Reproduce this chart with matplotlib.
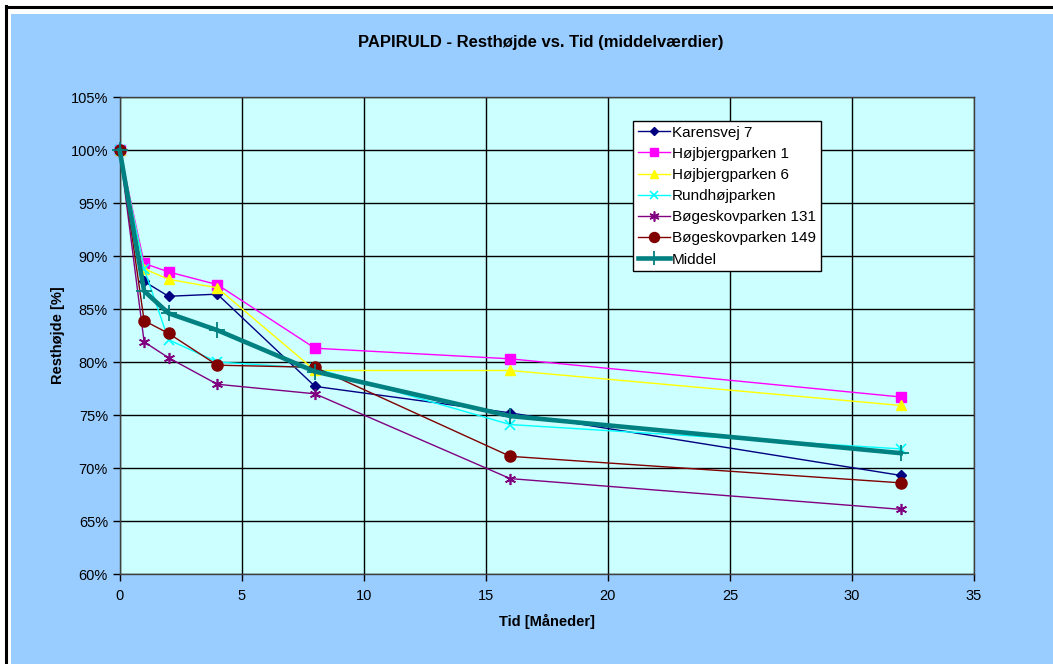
import matplotlib
matplotlib.use("Agg")
import matplotlib.pyplot as plt
from matplotlib.patches import Rectangle
from matplotlib.lines import Line2D
from matplotlib.ticker import FuncFormatter, MultipleLocator

plt.rcParams['font.family'] = ['Liberation Sans', 'DejaVu Sans']

# Time in months
months = [0, 1, 2, 4, 8, 16, 32]

# Residual height in percent per site
karensvej_7 = [100, 87.6, 86.2, 86.4, 77.7, 75.2, 69.3]
hojbjergparken_1 = [100, 89.3, 88.5, 87.3, 81.3, 80.3, 76.7]
hojbjergparken_6 = [100, 88.8, 87.8, 87.0, 79.2, 79.2, 75.9]
rundhojparken = [100, 88.8, 82.1, 80.0, 79.4, 74.1, 71.8]
bogeskovparken_131 = [100, 81.9, 80.4, 77.9, 77.0, 69.0, 66.1]
bogeskovparken_149 = [100, 83.9, 82.7, 79.7, 79.5, 71.1, 68.6]
middel = [100, 86.7, 84.6, 83.0, 79.1, 74.9, 71.4]

series_names = ["Karensvej 7", "Højbjergparken 1", "Højbjergparken 6",
                "Rundhøjparken", "Bøgeskovparken 131", "Bøgeskovparken 149",
                "Middel"]

W, H = 1053, 664
fig = plt.figure(figsize=(W / 100, H / 100), dpi=100, facecolor="white")

# Chart background and frame (pixel coordinates converted to figure fractions)
fig.patches.append(Rectangle((11 / W, 0), 1 - 11 / W, 1 - 14 / H,
                             transform=fig.transFigure, facecolor="#99CCFF",
                             edgecolor="none", zorder=-5))
fig.lines.append(Line2D([5.5 / W, 5.5 / W], [0, 1 - 6 / H],
                        transform=fig.transFigure, color="black", lw=2.2,
                        solid_capstyle="projecting", zorder=-4))
fig.lines.append(Line2D([5.5 / W, 1], [1 - 7.2 / H, 1 - 7.2 / H],
                        transform=fig.transFigure, color="black", lw=2.2,
                        solid_capstyle="projecting", zorder=-4))

ax = fig.add_axes([119.7 / W, 1 - 574 / H, (974 - 119.7) / W, (574 - 97) / H])
ax.set_zorder(1)
ax.set_facecolor("#CCFFFF")

styles = [
    dict(color="#000080", marker="D", markersize=5, lw=1.0),
    dict(color="#FF00FF", marker="s", markersize=7, lw=1.0),
    dict(color="#FFFF00", marker="^", markersize=7, lw=1.0),
    dict(color="#00FFFF", marker="x", markersize=7, lw=1.0, mew=1.2),
    dict(color="#800080", marker=(6, 2, 0), markersize=8, lw=1.0, mew=1.2),
    dict(color="#800000", marker="o", markersize=8, lw=1.0),
    dict(color="#008080", marker="+", markersize=11, lw=3.3, mew=1.3),
]
data = [karensvej_7, hojbjergparken_1, hojbjergparken_6, rundhojparken,
        bogeskovparken_131, bogeskovparken_149, middel]

for name, values, st in zip(series_names, data, styles):
    ax.plot(months, values, label=name, clip_on=False, zorder=3, **st)

ax.set_xlim(0, 35)
ax.set_ylim(60, 105)
ax.xaxis.set_major_locator(MultipleLocator(5))
ax.yaxis.set_major_locator(MultipleLocator(5))
ax.yaxis.set_major_formatter(FuncFormatter(lambda v, p: f"{v:.0f}%"))
ax.grid(True, color="black", linewidth=1.0)
ax.set_axisbelow(True)
for s in ax.spines.values():
    s.set_color("#404040")
    s.set_linewidth(1.0)
ax.tick_params(axis="both", direction="out", length=5, width=1.0,
               color="black", labelsize=10.5, labelcolor="black")
ax.tick_params(axis="x", pad=6)

ax.set_xlabel("Tid [Måneder]", fontsize=10.5, fontweight="bold", labelpad=8)
ax.set_ylabel("Resthøjde [%]", fontsize=10.5, fontweight="bold", labelpad=4)

fig.text(541 / W, 1 - 42 / H, "PAPIRULD - Resthøjde vs. Tid (middelværdier)",
         ha="center", va="center", fontsize=12, fontweight="bold")

leg = ax.legend(loc="upper left",
                bbox_to_anchor=((633 - 119.7) / (974 - 119.7), (574 - 121) / (574 - 97)),
                fontsize=11, frameon=True, fancybox=False, framealpha=1,
                edgecolor="black", facecolor="white", handlelength=2.1,
                handletextpad=0.15, labelspacing=0.47, borderpad=0.3,
                borderaxespad=0, markerscale=0.9)
leg.get_frame().set_linewidth(1.0)

fig.savefig("out.png", dpi=100, facecolor=fig.get_facecolor())
